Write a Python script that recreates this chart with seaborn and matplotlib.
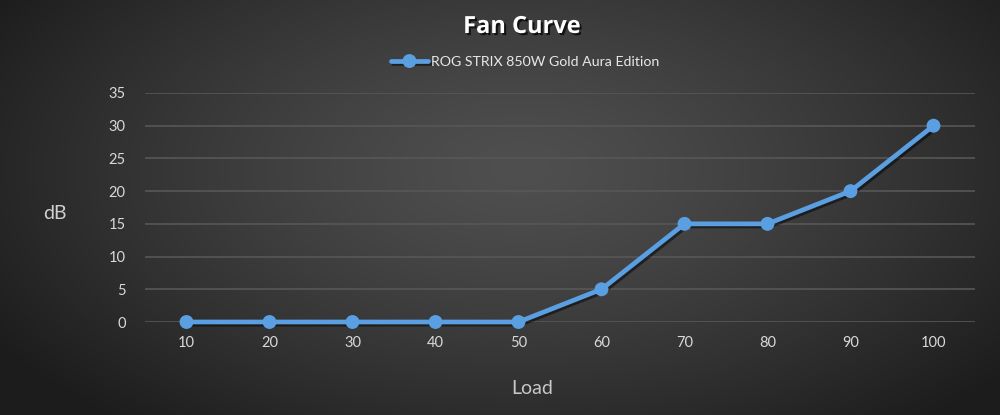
import numpy as np
import pandas as pd
import matplotlib
matplotlib.use("Agg")
import matplotlib.pyplot as plt
import matplotlib.patheffects as pe
import seaborn as sns

load = ["10", "20", "30", "40", "50", "60", "70", "80", "90", "100"]
db = [0, 0, 0, 0, 0, 5, 15, 15, 20, 30]
series_name = "ROG STRIX 850W Gold Aura Edition"
y_ticks = [0, 5, 10, 15, 20, 25, 30, 35]

sns.set_theme(style="dark")
plt.rcParams['font.family'] = ['Lato', 'DejaVu Sans']

W, H = 1000, 415
fig = plt.figure(figsize=(W / 100, H / 100), dpi=100)

# radial gradient background
bg = fig.add_axes([0, 0, 1, 1])
yy, xx = np.mgrid[0:H, 0:W]
cx, cy = 520, 170
r = np.sqrt(((xx - cx) / 620.0) ** 2 + ((yy - cy) / 330.0) ** 2)
r = np.clip(r, 0, 1)
val = 0.31 - 0.20 * r ** 1.3
img = np.dstack([val, val, val])
bg.imshow(img, extent=[0, 1, 0, 1], aspect="auto", zorder=0)
bg.set_axis_off()

ax = fig.add_axes([0.145, (H - 322) / H, 0.83, (322 - 93) / H])
ax.set_facecolor("none")

df = pd.DataFrame({"Load": load, "dB": db})
blue = "#5b9fe3"
sns.lineplot(data=df, x="Load", y="dB", ax=ax, color=blue, linewidth=3.4,
             marker="o", markersize=10, markeredgewidth=0, sort=False,
             label=series_name, clip_on=False, zorder=5,
             path_effects=[pe.SimpleLineShadow(offset=(1.5, -1.5), alpha=0.5, shadow_color="black"), pe.Normal()])

ax.set_xlim(-0.5, len(load) - 0.5)
ax.set_ylim(0, 35)
ax.set_yticks(y_ticks)
ax.grid(axis="y", color="#575757", linewidth=1.2)
ax.grid(axis="x", visible=False)
for s in ax.spines.values():
    s.set_visible(False)
ax.tick_params(axis="both", colors="#d9d9d9", labelsize=10.5, length=0)
ax.tick_params(axis="y", pad=14)
ax.tick_params(axis="x", pad=10)
ax.set_xlabel("")
ax.set_ylabel("")

leg = ax.get_legend()
leg.remove()
handles, labels = ax.get_legend_handles_labels()
fl = fig.legend(handles, labels, loc="center", bbox_to_anchor=(0.525, (H - 62) / H),
                frameon=False, fontsize=10.2, handlelength=2.6, handletextpad=0.2,
                labelcolor="#e8e8e8")

fig.text(0.522, (H - 27) / H, "Fan Curve", ha="center", va="center", color="white",
         fontsize=17, fontweight="bold", family=["Open Sans", "DejaVu Sans"],
         path_effects=[pe.withSimplePatchShadow(offset=(1.5, -1.5), shadow_rgbFace="black", alpha=0.7)])
fig.text(0.055, (H - 213) / H, "dB", ha="center", va="center", color="#d0d0d0", fontsize=14)
fig.text(0.532, (H - 388) / H, "Load", ha="center", va="center", color="#c8c8c8", fontsize=14)

fig.savefig("out.png", dpi=100)
